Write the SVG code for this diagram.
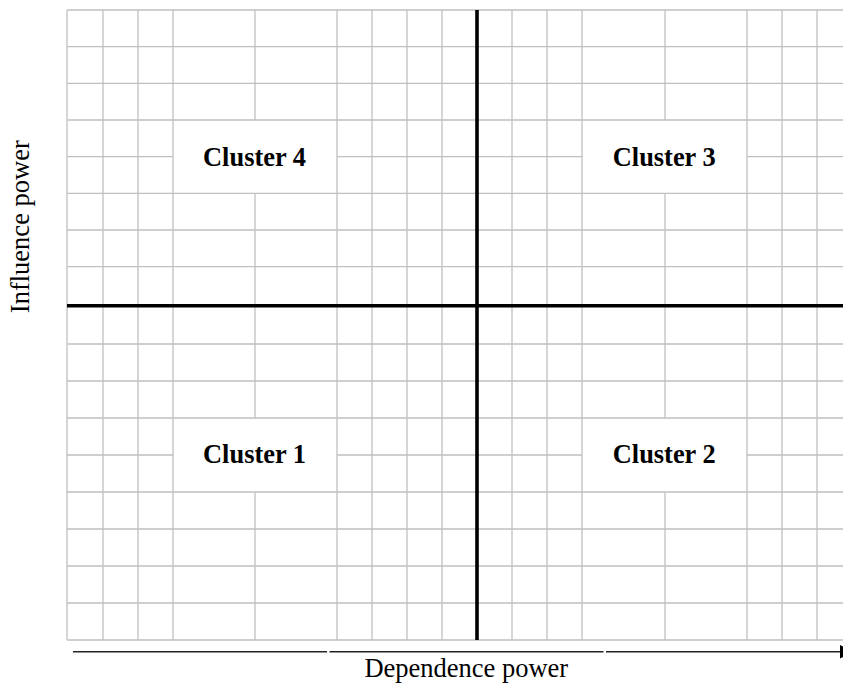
<svg xmlns="http://www.w3.org/2000/svg" width="843" height="686" viewBox="0 0 843 686">
<style>
.g{stroke:#c0c0c0;stroke-width:1.3;fill:none}
.k{stroke:#000;stroke-width:3.6;fill:none}
.ax{stroke:#222;stroke-width:1.5;fill:none}
.lbl{font-family:"Liberation Serif","Times New Roman",serif;font-weight:bold;font-size:26.4px;fill:#000;text-anchor:middle}
.axt{font-family:"Liberation Serif","Times New Roman",serif;font-size:26.5px;fill:#000;text-anchor:middle}
</style>
<rect width="843" height="686" fill="#fff"/>
<g id="grid">
<path class="g" d="M67 10H843M67 46.7H843M67 83.3H843M67 120H843M67 193.3H843M67 230H843M67 266.7H843
M67 156.7H173M337 156.7H582M747 156.7H843
M67 344H843M67 381H843M67 418H843M67 492H843M67 529H843M67 566H843M67 603H843M67 640H843
M67 455H173M337 455H582M747 455H843
M67 10V640M103 10V640M138 10V640M173 10V640M337 10V640M372 10V640M407 10V640M442 10V640
M512 10V640M547 10V640M582 10V640M747 10V640M782 10V640M817 10V640
M255 10V120M255 193.3V418M255 492V640
M665 10V120M665 193.3V418M665 492V640"/>
</g>
<g id="connectors">
<path class="k" d="M477 10V640M67 305.7H843"/>
<path class="ax" d="M73 651.7H327M329.5 651.7H603.5M606 651.7H841"/>
<polygon points="840,645 854,651.7 840,658.5" fill="#000"/>
</g>
<g id="cluster4"><text class="lbl" x="254.5" y="165.7">Cluster 4</text></g>
<g id="cluster3"><text class="lbl" x="664.2" y="165.7">Cluster 3</text></g>
<g id="cluster1"><text class="lbl" x="254.5" y="463.3">Cluster 1</text></g>
<g id="cluster2"><text class="lbl" x="664.2" y="463.3">Cluster 2</text></g>
<g id="xlabel"><text class="axt" x="466.3" y="677.3">Dependence power</text></g>
<g id="ylabel"><text class="axt" transform="translate(29.3,226.7) rotate(-90)">Influence power</text></g>
</svg>
